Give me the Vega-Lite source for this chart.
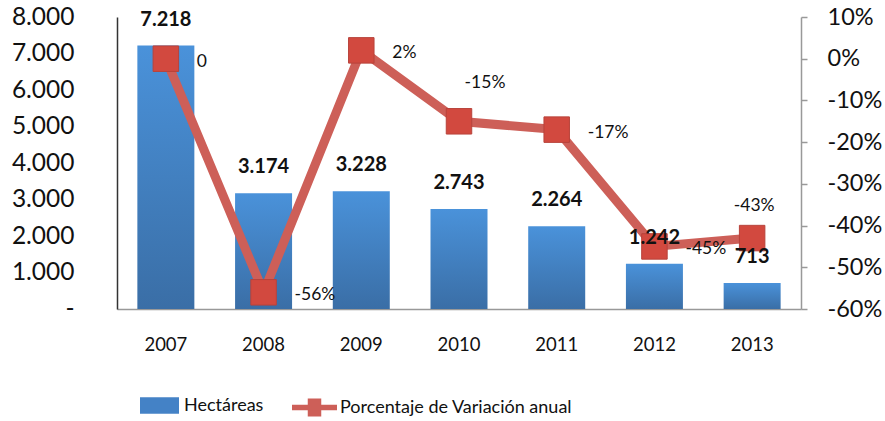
{
  "$schema": "https://vega.github.io/schema/vega-lite/v6.json",
  "width": 684,
  "height": 292,
  "autosize": "none",
  "padding": {"left": 117, "top": 17, "right": 84, "bottom": 112},
  "config": {
    "font": "Lato",
    "view": {"stroke": null},
    "locale": {
      "number": {"decimal": ",", "thousands": ".", "grouping": [3], "currency": ["", ""], "minus": "-", "percent": "%"}
    },
    "axis": {"grid": false, "labelFont": "Lato", "labelFontSize": 18, "labelColor": "#111", "title": null, "labelOverlap": false}
  },
  "data": {
    "values": [
      {"year": "2007", "hect": 7218, "pct": 0},
      {"year": "2008", "hect": 3174, "pct": -0.56},
      {"year": "2009", "hect": 3228, "pct": 0.02},
      {"year": "2010", "hect": 2743, "pct": -0.15},
      {"year": "2011", "hect": 2264, "pct": -0.17},
      {"year": "2012", "hect": 1242, "pct": -0.45},
      {"year": "2013", "hect": 713, "pct": -0.43}
    ]
  },
  "encoding": {
    "x": {
      "field": "year",
      "type": "ordinal",
      "axis": {"labelAngle": 0, "domainColor": "#999", "domainWidth": 1.5, "ticks": false, "labelPadding": 26, "labelFontSize": 18.5}
    }
  },
  "layer": [
    {
      "mark": {"type": "bar", "width": 57},
      "encoding": {
        "y": {
          "field": "hect",
          "type": "quantitative",
          "scale": {"domain": [0, 8000]},
          "axis": {
            "values": [0, 1000, 2000, 3000, 4000, 5000, 6000, 7000, 8000],
            "format": ",d",
            "labelExpr": "datum.value == 0 ? '-' : datum.label",
            "labelOverlap": false,
            "labelBound": false,
            "domainColor": "#333",
            "domainWidth": 1.5,
            "ticks": false,
            "labelPadding": 43,
            "labelFontSize": 24.5
          }
        },
        "fill": {
          "condition": {
            "test": "true",
            "value": {"gradient": "linear", "x1": 0, "y1": 0, "x2": 0, "y2": 1, "stops": [{"offset": 0, "color": "#4a92da"}, {"offset": 1, "color": "#3a6ea6"}]}
          },
          "datum": "Hectáreas",
          "type": "nominal",
          "scale": {"domain": ["Hectáreas"], "range": ["#4482c6"]},
          "legend": {
            "orient": "none",
            "legendX": 22,
            "legendY": 368,
            "title": null,
            "symbolType": "M-1,-0.42H1V0.42H-1Z",
            "symbolSize": 1521,
            "labelFontSize": 18,
            "labelFont": "Lato",
            "labelColor": "#111",
            "labelOffset": 4,
            "labelLimit": 0
          }
        }
      }
    },
    {
      "mark": {"type": "line", "strokeWidth": 9},
      "encoding": {
        "y": {
          "field": "pct",
          "type": "quantitative",
          "scale": {"domain": [-0.6, 0.1]},
          "axis": {
            "orient": "right",
            "values": [-0.6, -0.5, -0.4, -0.3, -0.2, -0.1, 0, 0.1],
            "format": ".0%",
            "labelOverlap": false,
            "domainColor": "#999",
            "domainWidth": 1.5,
            "tickColor": "#999",
            "tickWidth": 1.5,
            "tickSize": 6,
            "labelPadding": 20,
            "labelFontSize": 23.5
          }
        },
        "stroke": {
          "datum": "Porcentaje de Variación anual",
          "type": "nominal",
          "scale": {"domain": ["Porcentaje de Variación anual"], "range": ["#cd5f58"]},
          "legend": {
            "orient": "none",
            "legendX": 175,
            "legendY": 368,
            "title": null,
            "symbolType": "M-1,-0.12H-0.3V-0.4H0.3V-0.12H1V0.12H0.3V0.4H-0.3V0.12H-1Z",
            "symbolSize": 2025,
            "symbolFillColor": "#cd5f58",
            "symbolStrokeWidth": 0,
            "labelFontSize": 18,
            "labelFont": "Lato",
            "labelColor": "#111",
            "labelOffset": 3,
            "labelLimit": 0
          }
        }
      }
    },
    {
      "mark": {"type": "point", "shape": "square", "size": 650, "filled": true, "fill": "#d2493f", "stroke": "#b8433b", "strokeWidth": 1, "opacity": 1},
      "encoding": {"y": {"field": "pct", "type": "quantitative", "scale": {"domain": [-0.6, 0.1]}, "axis": null}}
    },
    {
      "mark": {"type": "text", "fontWeight": "bold", "fontSize": 20, "baseline": "middle", "dy": -26, "color": "#111"},
      "encoding": {
        "y": {"field": "hect", "type": "quantitative", "scale": {"domain": [0, 8000]}, "axis": null},
        "text": {"field": "hect", "type": "quantitative", "format": ",d"}
      }
    },
    {
      "transform": [{"filter": "datum.year != '2010' && datum.year != '2013'"}],
      "mark": {"type": "text", "fontSize": 17.5, "align": "left", "baseline": "middle", "dx": 31, "dy": 3, "color": "#111"},
      "encoding": {
        "y": {"field": "pct", "type": "quantitative", "scale": {"domain": [-0.6, 0.1]}, "axis": null},
        "text": {"condition": {"test": "datum.pct == 0", "value": "0"}, "field": "pct", "type": "quantitative", "format": ".0%"}
      }
    },
    {
      "transform": [{"filter": "datum.year == '2010'"}],
      "mark": {"type": "text", "fontSize": 17.5, "align": "center", "baseline": "middle", "dx": 26, "dy": -38, "color": "#111"},
      "encoding": {
        "y": {"field": "pct", "type": "quantitative", "scale": {"domain": [-0.6, 0.1]}, "axis": null},
        "text": {"field": "pct", "type": "quantitative", "format": ".0%"}
      }
    },
    {
      "transform": [{"filter": "datum.year == '2013'"}],
      "mark": {"type": "text", "fontSize": 17.5, "align": "center", "baseline": "middle", "dx": 2, "dy": -32, "color": "#111"},
      "encoding": {
        "y": {"field": "pct", "type": "quantitative", "scale": {"domain": [-0.6, 0.1]}, "axis": null},
        "text": {"field": "pct", "type": "quantitative", "format": ".0%"}
      }
    }
  ],
  "resolve": {"scale": {"y": "independent", "fill": "independent", "stroke": "independent"}}
}
